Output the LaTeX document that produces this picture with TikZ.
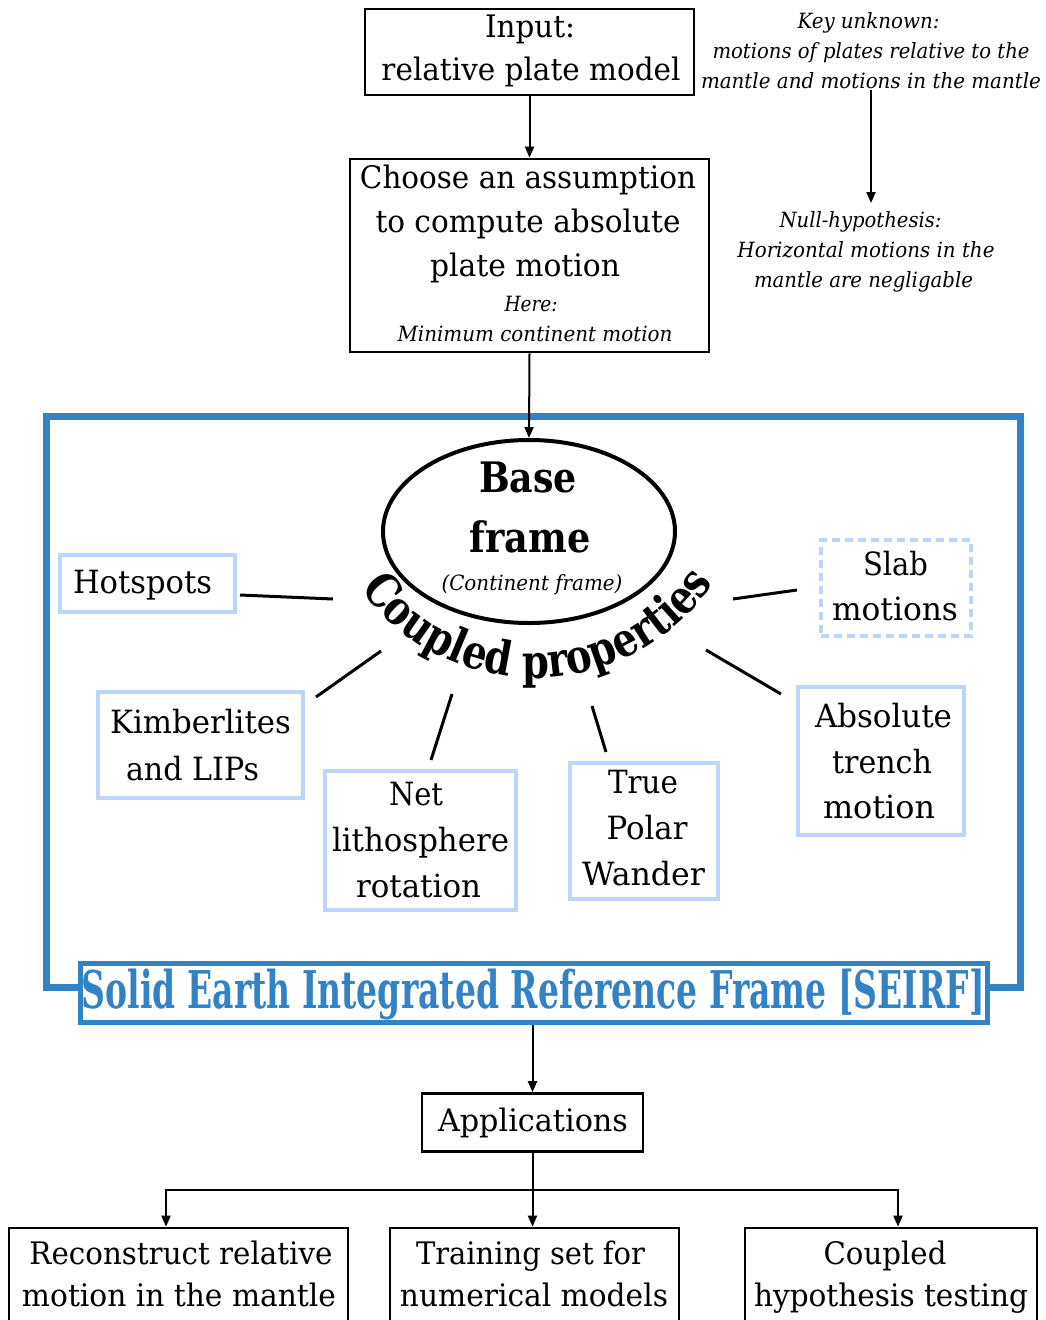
\documentclass[tikz,border=0pt]{standalone}
\usepackage{fontspec}
\usepackage{graphicx}
\setmainfont{DejaVu Serif}
\newfontfamily\cpfont[FakeStretch=0.82]{DejaVu Serif}
\usetikzlibrary{arrows.meta,decorations.text,shapes.geometric}
\definecolor{fblue}{RGB}{50,130,198}
\definecolor{lblue}{RGB}{189,213,250}
\newcommand\lineT[3]{{\fontsize{#1}{#1}\selectfont\resizebox{#2pt}{\height}{#3}}}
\newcommand\lineI[3]{{\itshape\fontsize{#1}{#1}\selectfont\resizebox{#2pt}{\height}{#3}}}
\newcommand\lineB[3]{{\bfseries\fontsize{#1}{#1}\selectfont\resizebox{#2pt}{\height}{#3}}}
\newcommand\cpsel{\cpfont\bfseries\fontsize{47}{47}\selectfont}
\tikzset{
  blk/.style={draw=black, line width=2.7pt, inner sep=0pt},
  lbx/.style={draw=lblue, line width=3.5pt, inner sep=0pt},
  ln/.style={anchor=base, inner sep=0pt, outer sep=0pt},
  arr/.style={line width=2pt, -{Triangle[length=11pt,width=9pt]}},
  spoke/.style={line width=3pt},
}
\begin{document}
\begin{tikzpicture}[x=1pt,y=1pt]
\useasboundingbox (0,0) rectangle (1046,-1320);
\clip (0,0) rectangle (1046,-1320);
\fill[white] (0,0) rectangle (1046,-1320);

% ---- top ----
\node[blk, minimum width=329pt, minimum height=86pt] (inp) at (529.5,-52) {};
\node[ln] (inp1) at (530,-37) {\lineT{31}{90}{Input:}};
\node[ln] (inp2) at (531,-80) {\lineT{31}{299}{relative plate model}};

\node[blk, minimum width=359pt, minimum height=193pt] (choose) at (529.5,-255.5) {};
\node[ln] (ch1) at (528,-188) {\lineT{31}{336}{Choose an assumption}};
\node[ln] (ch2) at (528,-232) {\lineT{31}{305}{to compute absolute}};
\node[ln] (ch3) at (525,-276) {\lineT{31}{190}{plate motion}};
\node[ln] (ch4) at (531,-311) {\lineI{21}{53}{Here:}};
\node[ln] (ch5) at (535,-341) {\lineI{21}{275}{Minimum continent motion}};

\node[ln] (key1) at (868.5,-28) {\lineI{21}{142}{Key unknown:}};
\node[ln] (key2) at (871,-58) {\lineI{21}{317}{motions of plates relative to the}};
\node[ln] (key3) at (871,-88) {\lineI{21}{340}{mantle and motions in the mantle}};
\node[ln] (nul1) at (860.5,-227) {\lineI{21}{162}{Null-hypothesis:}};
\node[ln] (nul2) at (866,-257) {\lineI{21}{257}{Horizontal motions in the}};
\node[ln] (nul3) at (863.5,-287) {\lineI{21}{219}{mantle are negligable}};

\draw[arr] ([yshift=-2pt]key3.south) -- ([yshift=8pt]key3.south |- nul1.north);
\draw[arr] (inp.south) -- (choose.north);

% ---- frame ----
\draw[line width=7pt, fblue] (46.5,-416.5) rectangle (1020,-987.5);

\node[ellipse, draw, line width=4pt, minimum width=292pt, minimum height=183pt, inner sep=0pt] (base) at (529,-531.5) {};
\draw[arr] (choose.south) -- (base.north);
\node[ln] (base1) at (528,-492) {\lineB{42}{98}{Base}};
\node[ln] (base2) at (530,-552) {\lineB{42}{121}{frame}};
\node[ln] (base3) at (532,-590) {\lineI{21}{181}{(Continent frame)}};

\path[decorate, decoration={text along path, text align=center,
  text={|\cpsel|Coupled properties}}]
  (535,-463) ++(200:215) arc[start angle=200, end angle=342, radius=215];

% property boxes
\node[lbx, minimum width=175pt, minimum height=57pt] (hot) at (147.5,-583.5) {};
\node[ln] (hot1) at (142.5,-593) {\lineT{32}{139}{Hotspots}};

\node[lbx, minimum width=205pt, minimum height=106pt] (kim) at (200.5,-745) {};
\node[ln] (kim1) at (200.5,-733) {\lineT{32}{181}{Kimberlites}};
\node[ln] (kim2) at (192.5,-780) {\lineT{32}{133}{and LIPs}};

\node[lbx, minimum width=191pt, minimum height=139pt] (net) at (420.5,-840.5) {};
\node[ln] (net1) at (416,-805) {\lineT{32}{54}{Net}};
\node[ln] (net2) at (420.5,-851) {\lineT{32}{177}{lithosphere}};
\node[ln] (net3) at (418.5,-897) {\lineT{32}{125}{rotation}};

\node[lbx, minimum width=148pt, minimum height=136pt] (tpw) at (644,-831) {};
\node[ln] (tpw1) at (643,-793) {\lineT{32}{70}{True}};
\node[ln] (tpw2) at (647,-839) {\lineT{32}{81}{Polar}};
\node[ln] (tpw3) at (643.5,-885) {\lineT{32}{123}{Wander}};

\node[lbx, minimum width=166pt, minimum height=148pt] (abs) at (881,-761) {};
\node[ln] (abs1) at (883.5,-727) {\lineT{32}{137}{Absolute}};
\node[ln] (abs2) at (882,-773) {\lineT{32}{100}{trench}};
\node[ln] (abs3) at (879,-818) {\lineT{32}{112}{motion}};

\node[lbx, dashed, dash pattern=on 8pt off 5pt, minimum width=150pt, minimum height=96pt] (slab) at (896,-588) {};
\node[ln] (slab1) at (895.5,-575) {\lineT{32}{65}{Slab}};
\node[ln] (slab2) at (895,-620) {\lineT{32}{126}{motions}};

% spokes
\coordinate (hA) at (240,-595); \coordinate (hB) at (333,-599);
\coordinate (kA) at (316,-697); \coordinate (kB) at (381,-651);
\coordinate (nA) at (452,-694); \coordinate (nB) at (431,-760);
\coordinate (tA) at (592,-706); \coordinate (tB) at (606,-752);
\coordinate (aA) at (706,-650); \coordinate (aB) at (781,-694);
\coordinate (sA) at (733,-599); \coordinate (sB) at (797,-590);
\draw[spoke] (hA) -- (hB);
\draw[spoke] (kA) -- (kB);
\draw[spoke] (nA) -- (nB);
\draw[spoke] (tA) -- (tB);
\draw[spoke] (aA) -- (aB);
\draw[spoke] (sA) -- (sB);

% SEIRF
\node[draw=fblue, line width=5pt, fill=white, minimum width=907pt, minimum height=59pt, inner sep=0pt] (seirf) at (533.75,-993) {};
\node[ln, text=fblue] (seirft) at (533.5,-1008) {\lineB{52}{903}{Solid Earth Integrated Reference Frame [SEIRF]}};

% applications
\node[blk, minimum width=221pt, minimum height=58pt] (app) at (532.5,-1122.5) {};
\node[ln] (app1) at (533,-1131) {\lineT{31}{190}{Applications}};
\draw[arr] (seirf.south -| app.north) -- (app.north);

\node[blk, minimum width=339pt, minimum height=140pt] (rec) at (178.5,-1298) {};
\node[blk, minimum width=289pt, minimum height=140pt] (mid) at (534.5,-1298) {};
\node[blk, minimum width=292pt, minimum height=140pt] (coup) at (891,-1298) {};
\node[ln] (rec1) at (181,-1264) {\lineT{31}{303}{Reconstruct relative}};
\node[ln] (rec2) at (179,-1306) {\lineT{31}{314}{motion in the mantle}};
\node[ln] (mid1) at (530.5,-1264) {\lineT{31}{229}{Training set for}};
\node[ln] (mid2) at (534,-1306) {\lineT{31}{268}{numerical models}};
\node[ln] (coup1) at (885,-1264) {\lineT{31}{123}{Coupled}};
\node[ln] (coup2) at (891,-1306) {\lineT{31}{274}{hypothesis testing}};

\coordinate (split) at (532.5,-1190);
\draw[line width=2pt] (app.south) -- (split);
\draw[arr] (split) -| ([xshift=-12.5pt]rec.north);
\draw[arr] (split) -- (split |- mid.north);
\draw[arr] (split) -| ([xshift=7pt]coup.north);
\end{tikzpicture}
\end{document}
